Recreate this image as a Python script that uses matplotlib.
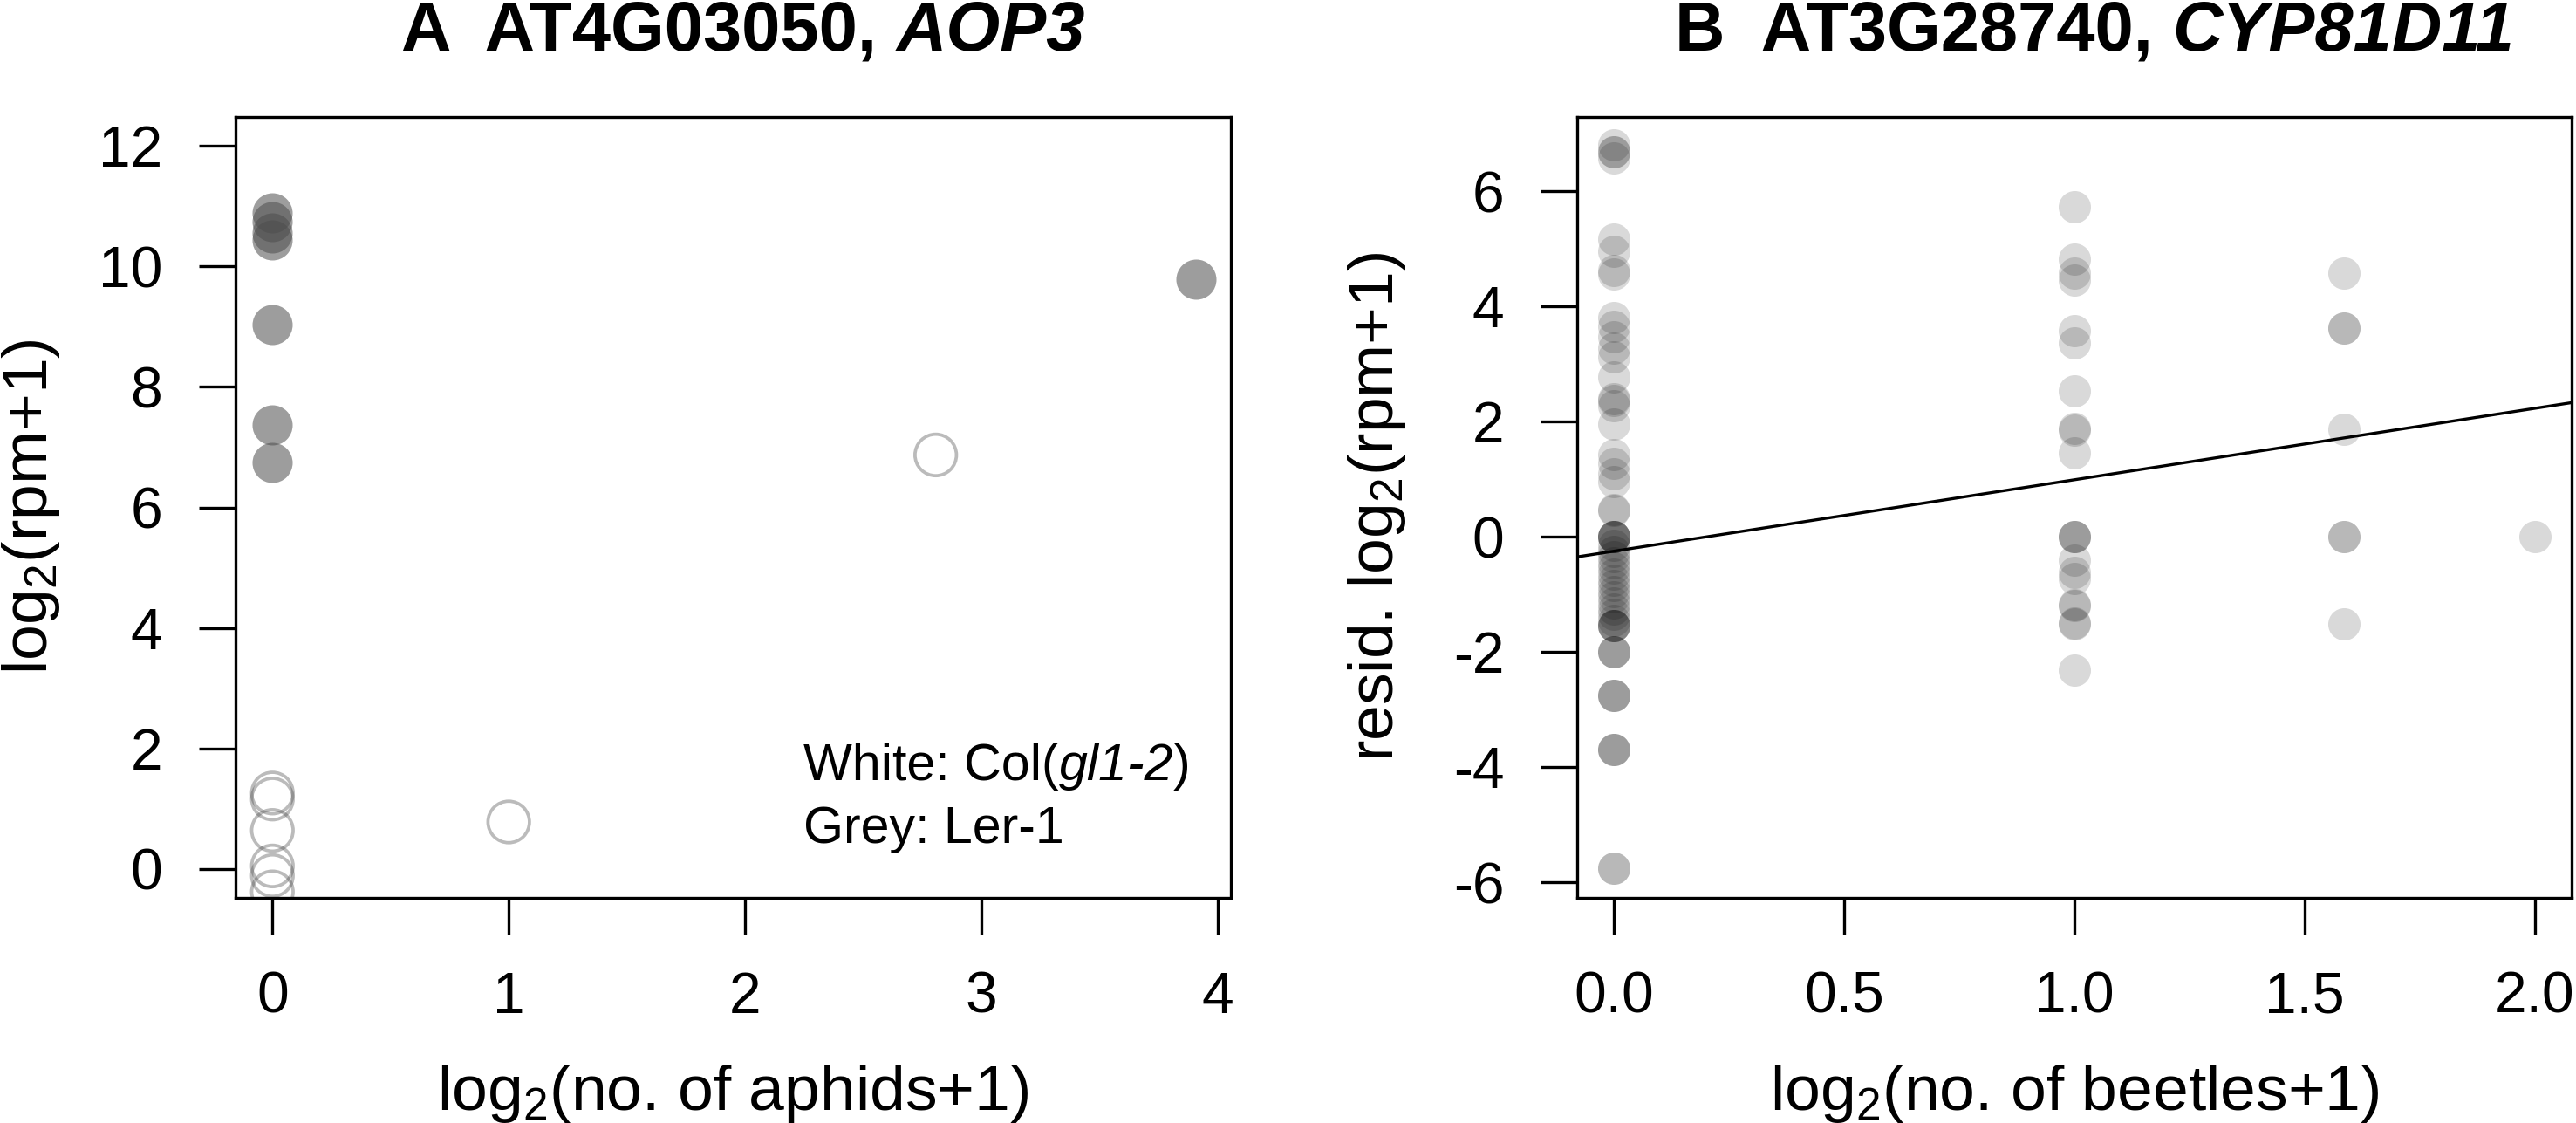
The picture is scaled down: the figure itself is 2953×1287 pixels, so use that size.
import matplotlib
matplotlib.use("Agg")
import matplotlib.pyplot as plt

# ---- data ----
# panel A: log2(rpm+1) of AOP3 vs log2(no. of aphids+1)
aphid_grey_x = [0, 0, 0, 0, 0, 0, 0, 3.907]
aphid_grey_y = [10.88, 10.74, 10.56, 10.44, 9.03, 7.37, 6.74, 9.79]
aphid_white_x = [0, 0, 0, 0, 0, 0, 1.0, 2.807]
aphid_white_y = [1.26, 1.16, 0.64, 0.05, -0.11, -0.38, 0.78, 6.87]

# panel B: residual log2(rpm+1) of CYP81D11 vs log2(no. of beetles+1)
resid_b0 = [6.80, 6.68, 6.68, 6.58,
            5.17, 4.95, 4.62, 4.57,
            3.80, 3.65, 3.47, 3.27, 3.12,
            2.78, 2.40, 2.36, 2.28, 1.96,
            1.42, 1.27, 1.10, 0.95,
            0.47, 0.45,
            0.0, 0.0, 0.0, 0.0, 0.0,
            -0.15, -0.25, -0.35, -0.45, -0.55, -0.65, -0.75, -0.85,
            -0.95, -1.05, -1.15, -1.25, -1.35, -1.45,
            -1.55, -1.55, -1.55, -1.55,
            -2.0, -2.0, -2.0, -2.75, -2.75, -2.75, -3.7, -3.7, -3.7,
            -5.75, -5.75]
resid_b1 = [5.73, 4.82, 4.58, 4.45, 3.58, 3.37, 2.53, 1.88, 1.85, 1.45,
            0.0, 0.0, 0.0, -0.40, -0.62, -0.72, -1.18, -1.20, -1.50, -1.52, -2.31]
resid_b2 = [4.58, 3.63, 3.63, 1.86, 0.0, 0.0, -1.52]
resid_b3 = [0.0]
beetle_levels = [0.0, 1.0, 1.585, 2.0]
fit_intercept = -0.25
fit_slope = 1.24

a_xticks = [0, 1, 2, 3, 4]
a_yticks = [0, 2, 4, 6, 8, 10, 12]
b_xticks = [0.0, 0.5, 1.0, 1.5, 2.0]
b_yticks = [-6, -4, -2, 0, 2, 4, 6]

# ---- style ----
plt.rcParams['font.family'] = 'Liberation Sans'
plt.rcParams['mathtext.fontset'] = 'custom'
plt.rcParams['mathtext.rm'] = 'Liberation Sans'
plt.rcParams['mathtext.it'] = 'Liberation Sans:italic'
plt.rcParams['mathtext.bf'] = 'Liberation Sans:bold'
plt.rcParams['axes.unicode_minus'] = False

W, H, DPI = 2953, 1287, 300
TICK_FS = 15.8
LAB_FS = 17.6
TITLE_FS = 19.1
NOTE_FS = 14.2

fig = plt.figure(figsize=(W / DPI, H / DPI), dpi=DPI)
top_px, bot_px = 134, 1029
axA = fig.add_axes([270 / W, 1 - bot_px / H, (1411 - 270) / W, (bot_px - top_px) / H])
axB = fig.add_axes([1808 / W, 1 - bot_px / H, (2948 - 1808) / W, (bot_px - top_px) / H])


def style_axis(ax):
    for sp in ax.spines.values():
        sp.set_linewidth(0.8)
    ax.tick_params(length=10.1, width=0.8, pad=10, labelsize=TICK_FS, direction='out')


def rich_text(x_px, y_px, parts, size, ha='center'):
    # draws pieces of differently styled text side by side on one baseline
    r = fig.canvas.get_renderer()

    def advance(s, kw):
        t1 = fig.text(0, 0, s + '|', fontsize=size, **kw)
        t2 = fig.text(0, 0, '|', fontsize=size, **kw)
        w = t1.get_window_extent(r).width - t2.get_window_extent(r).width
        t1.remove()
        t2.remove()
        return w

    widths = [advance(s, kw) for s, kw in parts]
    x0 = x_px - sum(widths) / 2 if ha == 'center' else x_px
    for (s, kw), w in zip(parts, widths):
        fig.text(x0 / W, 1 - y_px / H, s, fontsize=size, ha='left', va='baseline', **kw)
        x0 += w


# ---- panel A ----
grey_col = (0.3, 0.3, 0.3, 0.55)
ring_col = (0.3, 0.3, 0.3, 0.38)
axA.scatter(aphid_grey_x, aphid_grey_y, s=122, color=grey_col, linewidths=0)
axA.scatter(aphid_white_x, aphid_white_y, s=130, facecolors='none',
            edgecolors=ring_col, linewidths=0.9)
axA.set_xlim(-0.156, 4.056)
axA.set_ylim(-0.48, 12.48)
axA.set_xticks(a_xticks)
axA.set_yticks(a_yticks)
style_axis(axA)

# ---- panel B ----
dot_col = (0, 0, 0, 0.15)
for lvl, vals in zip(beetle_levels, [resid_b0, resid_b1, resid_b2, resid_b3]):
    axB.scatter([lvl] * len(vals), vals, s=79, color=dot_col, linewidths=0)
axB.axline((0, fit_intercept), slope=fit_slope, color='black', lw=0.8)
axB.set_xlim(-0.08, 2.08)
axB.set_ylim(-6.27, 7.29)
axB.set_xticks(b_xticks)
axB.set_xticklabels([f'{v:.1f}' for v in b_xticks])
axB.set_yticks(b_yticks)
style_axis(axB)

# ---- titles, labels, note ----
fig.canvas.draw()
rich_text(852, 58, [('A  AT4G03050,', dict(fontweight='bold')),
                    (' ', dict(fontweight='bold')),
                    ('AOP3', dict(fontweight='bold', fontstyle='italic'))], TITLE_FS)
rich_text(2401, 58, [('B  AT3G28740,', dict(fontweight='bold')),
                     (' ', dict(fontweight='bold')),
                     ('CYP81D11', dict(fontweight='bold', fontstyle='italic'))], TITLE_FS)

fig.text(36 / W, 1 - 581 / H, r'log$_2$(rpm+1)', rotation=90, ha='center', va='center', fontsize=LAB_FS)
fig.text(1578 / W, 1 - 581 / H, r'resid. log$_2$(rpm+1)', rotation=90, ha='center', va='center', fontsize=LAB_FS)
fig.text(840 / W, 1 - 1272 / H, r'log$_2$(no. of aphids+1)', ha='center', va='baseline', fontsize=LAB_FS)
fig.text(2378 / W, 1 - 1272 / H, r'log$_2$(no. of beetles+1)', ha='center', va='baseline', fontsize=LAB_FS)

rich_text(921, 894, [('White: Col(', {}), ('gl1-2', dict(fontstyle='italic')), (')', {})], NOTE_FS, ha='left')
rich_text(921, 966, [('Grey: Ler-1', {})], NOTE_FS, ha='left')

fig.savefig('out.png', dpi=DPI)
